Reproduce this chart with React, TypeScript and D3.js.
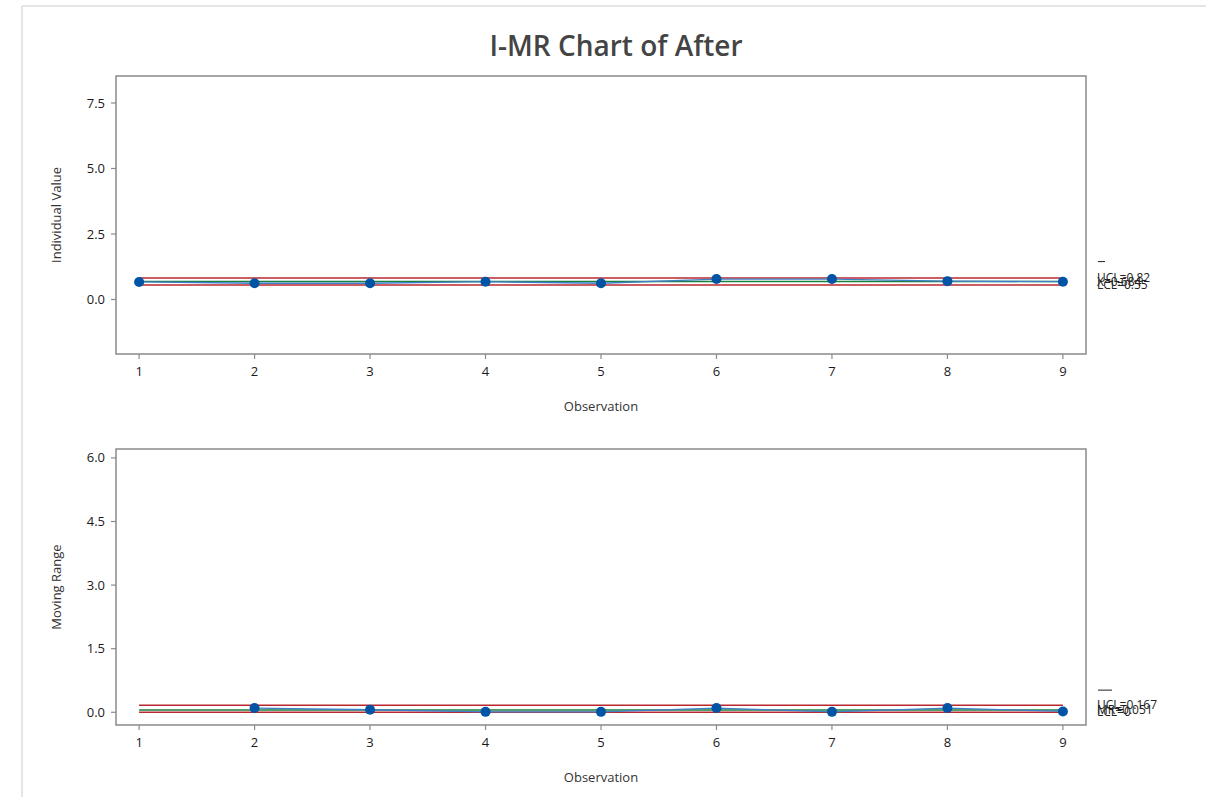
import React from 'react';
import * as d3 from 'd3';

const observations = [1, 2, 3, 4, 5, 6, 7, 8, 9];
const individualValues = [0.67, 0.62, 0.62, 0.68, 0.62, 0.78, 0.78, 0.7, 0.68];
const movingRanges = [null, 0.1, 0.06, 0.01, 0.01, 0.1, 0.01, 0.1, 0.02];

const individualLimits = [0.82, 0.684, 0.55]; // UCL, mean, LCL
const individualLabels = ['UCL=0.82', 'X=0.684', 'LCL=0.55'];
const mrLimits = [0.167, 0.051, 0];
const mrLabels = ['UCL=0.167', 'MR=0.051', 'LCL=0'];

const individualTicks = [0, 2.5, 5, 7.5];
const mrTicks = [0, 1.5, 3, 4.5, 6];

const FONT = "'Open Sans', 'Noto Sans', sans-serif";
const RED = '#b8282e';
const GREEN = '#16813c';
const BLUE = '#0054a6';
const AXIS = '#8a8a8a';

const frameLeft = 116;
const frameRight = 1086;

const x = d3.scaleLinear().domain([0.8, 9.2]).range([frameLeft, frameRight]);

type PanelProps = {
  top: number;
  bottom: number;
  yDomain: [number, number];
  ticks: number[];
  values: (number | null)[];
  limits: number[];
  labels: string[];
  yLabel: string;
  barWidth: number;
};

function Panel({ top, bottom, yDomain, ticks, values, limits, labels, yLabel, barWidth }: PanelProps) {
  const y = d3.scaleLinear().domain(yDomain).range([bottom, top]);
  const pts = observations
    .map((o, i) => ({ o, v: values[i] }))
    .filter((d) => d.v !== null) as { o: number; v: number }[];
  const line = d3
    .line<{ o: number; v: number }>()
    .x((d) => x(d.o))
    .y((d) => y(d.v));
  const [ucl, center, lcl] = limits;
  const xEnd = x(9);
  const midX = (frameLeft + frameRight) / 2;

  return (
    <g>
      {/* frame */}
      <rect x={frameLeft} y={top} width={frameRight - frameLeft} height={bottom - top}
        fill="none" stroke={AXIS} strokeWidth={1.5} />
      {/* y axis */}
      {ticks.map((t) => (
        <g key={t}>
          <line x1={frameLeft - 5} x2={frameLeft} y1={y(t)} y2={y(t)} stroke={AXIS} strokeWidth={1.2} />
          <text x={frameLeft - 11} y={y(t)} dy="0.35em" textAnchor="end" fontSize={13} fill="#1a1a1a" fontFamily={FONT}>
            {d3.format('.1f')(t)}
          </text>
        </g>
      ))}
      {/* x axis */}
      {observations.map((o) => (
        <g key={o}>
          <line x1={x(o)} x2={x(o)} y1={bottom} y2={bottom + 5} stroke={AXIS} strokeWidth={1.2} />
          <text x={x(o)} y={bottom + 22} textAnchor="middle" fontSize={13} fill="#1a1a1a" fontFamily={FONT}>
            {o}
          </text>
        </g>
      ))}
      <text x={midX} y={bottom + 57} textAnchor="middle" fontSize={13} fill="#333" fontFamily={FONT}>
        Observation
      </text>
      <text transform={`translate(61,${(top + bottom) / 2}) rotate(-90)`} textAnchor="middle"
        fontSize={13} fill="#333" fontFamily={FONT}>
        {yLabel}
      </text>
      {/* control limits */}
      <line x1={x(1)} x2={xEnd} y1={y(ucl)} y2={y(ucl)} stroke={RED} strokeWidth={1.5} />
      <line x1={x(1)} x2={xEnd} y1={y(lcl)} y2={y(lcl)} stroke={RED} strokeWidth={1.5} />
      <line x1={x(1)} x2={xEnd} y1={y(center)} y2={y(center)} stroke={GREEN} strokeWidth={1.5} />
      {/* data */}
      <path d={line(pts) ?? ''} fill="none" stroke="#3f7fc9" strokeWidth={1.3} />
      {pts.map((d) => (
        <circle key={d.o} cx={x(d.o)} cy={y(d.v)} r={5} fill={BLUE} />
      ))}
      {/* limit labels (they overlap, as in the original) */}
      {limits.map((l, i) => (
        <text key={i} x={frameRight + 11} y={y(l)} dy="0.35em" fontSize={12} fill="#222" fontFamily={FONT}>
          {labels[i]}
        </text>
      ))}
      <line x1={frameRight + 12} x2={frameRight + 12 + barWidth} y1={y(center) - 20} y2={y(center) - 20}
        stroke="#222" strokeWidth={1} />
    </g>
  );
}

export default function App() {
  return (
    <svg width={1206} height={797} style={{ position: 'absolute', left: 0, top: 0, background: '#fff' }}>
      <rect x={0} y={0} width={1206} height={797} fill="#fff" />
      <line x1={22} x2={1206} y1={6} y2={6} stroke="#dcdcdc" strokeWidth={1.5} />
      <line x1={22} x2={22} y1={6} y2={797} stroke="#dcdcdc" strokeWidth={1.5} />
      <text x={616} y={56} textAnchor="middle" fontSize={28} fontWeight={600} fill="#444" fontFamily={FONT}>
        I-MR Chart of After
      </text>
      <Panel top={76} bottom={354} yDomain={[-2.08, 8.53]} ticks={individualTicks}
        values={individualValues} limits={individualLimits} labels={individualLabels}
        yLabel="Individual Value" barWidth={7} />
      <Panel top={449} bottom={725} yDomain={[-0.3, 6.21]} ticks={mrTicks}
        values={movingRanges} limits={mrLimits} labels={mrLabels}
        yLabel="Moving Range" barWidth={14} />
    </svg>
  );
}
